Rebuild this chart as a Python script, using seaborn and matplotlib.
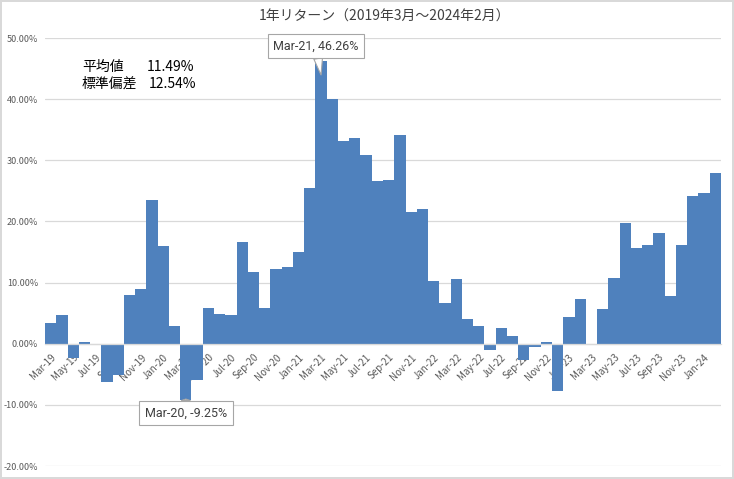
import matplotlib
matplotlib.use("Agg")
import matplotlib.pyplot as plt
import seaborn as sns
import pandas as pd
from matplotlib.ticker import FuncFormatter

months = ["Mar", "Apr", "May", "Jun", "Jul", "Aug", "Sep", "Oct", "Nov", "Dec", "Jan", "Feb"]
years = ["19", "20", "21", "22", "23"]
labels = []
for i in range(60):
    m = months[i % 12]
    y = int(years[0]) + (i + 2) // 12
    labels.append(f"{m}-{y}")

returns = [3.35, 4.65, -2.3, 0.2, 0.0, -6.2, -5.1, 7.9, 8.9, 23.5, 15.9, 2.85,
           -9.25, -6.0, 5.8, 4.8, 4.65, 16.6, 11.7, 5.8, 12.2, 12.5, 14.95, 25.4,
           46.26, 40.1, 33.1, 33.7, 30.8, 26.55, 26.7, 34.2, 21.5, 22.0, 10.3, 6.7,
           10.65, 4.0, 2.85, -0.95, 2.65, 1.2, -2.65, -0.5, 0.25, -7.7, 4.45, 7.25,
           -0.25, 5.6, 10.75, 19.7, 15.6, 16.1, 18.05, 7.8, 16.1, 24.1, 24.6, 27.9]

title = "1年リターン（2019年3月～2024年2月）"
stats_names = ["平均値", "標準偏差"]
stats_values = ["11.49%", "12.54%"]

sns.set_theme(style="white")
plt.rcParams["font.family"] = ["Noto Sans CJK JP", "DejaVu Sans"]

df = pd.DataFrame({"month": labels, "ret": returns})

fig = plt.figure(figsize=(7.34, 4.79), dpi=100)
fig.patch.set_edgecolor("#D9D9D9")
fig.patch.set_linewidth(1.5)
ax = fig.add_axes([45 / 734, 13 / 479, 676 / 734, 428 / 479])

sns.barplot(data=df, x="month", y="ret", order=labels, color="#4F81BD",
            saturation=1, width=1.0, linewidth=0, ax=ax)

ax.set_ylim(-20, 50)
ax.set_xlim(-0.5, 59.5)
ax.set_yticks(range(-20, 51, 10))
ax.yaxis.set_major_formatter(FuncFormatter(lambda v, p: f"{v:.2f}%"))
ax.grid(axis="y", color="#D9D9D9", linewidth=0.9)
ax.set_axisbelow(True)
ax.set_xlabel("")
ax.set_ylabel("")
for s in ["left", "right", "top"]:
    ax.spines[s].set_visible(False)
ax.spines["bottom"].set_position(("data", 0))
ax.spines["bottom"].set_color("#D9D9D9")
ax.spines["bottom"].set_linewidth(0.9)

ax.set_xticks(range(0, 60, 2))
ax.set_xticklabels(labels[::2], rotation=45, ha="right", rotation_mode="anchor",
                   fontsize=7, color="#595959")
ax.tick_params(axis="x", length=0, pad=6)
ax.tick_params(axis="y", length=0, pad=5, labelsize=6.5, labelcolor="#595959")

fig.text(385 / 734, 1 - 17 / 479, title, ha="center", va="center",
         fontsize=10, color="#404040")

for i, (n, v) in enumerate(zip(stats_names, stats_values)):
    yy = 1 - (67 + 17 * i) / 479
    fig.text(82 / 734, yy, n, ha="left", va="center", fontsize=10, color="black")
    fig.text((147 + 2 * i) / 734, yy, v, ha="left", va="center", fontsize=10, color="black")

def callout(idx, tip_val, dx, dy):
    val = returns[idx]
    txt = f"{labels[idx]}, {val:.2f}%"
    ax.annotate(txt, xy=(idx, tip_val), xytext=(dx, dy), textcoords="offset pixels",
                ha="center", va="center", fontsize=9, color="#404040",
                family=["Roboto", "DejaVu Sans"],
                bbox=dict(boxstyle="square,pad=0.45", fc="white", ec="#A6A6A6", lw=0.8),
                arrowprops=dict(arrowstyle="wedge,tail_width=0.7,shrink_factor=0.5",
                                fc="white", ec="#A6A6A6", lw=0.8,
                                shrinkA=0, shrinkB=0),
                zorder=5)

callout(24, returns[24] - 2.3, -5, 29)
callout(12, returns[12] + 0.2, 0, -14)

fig.savefig("out.png", dpi=100)
